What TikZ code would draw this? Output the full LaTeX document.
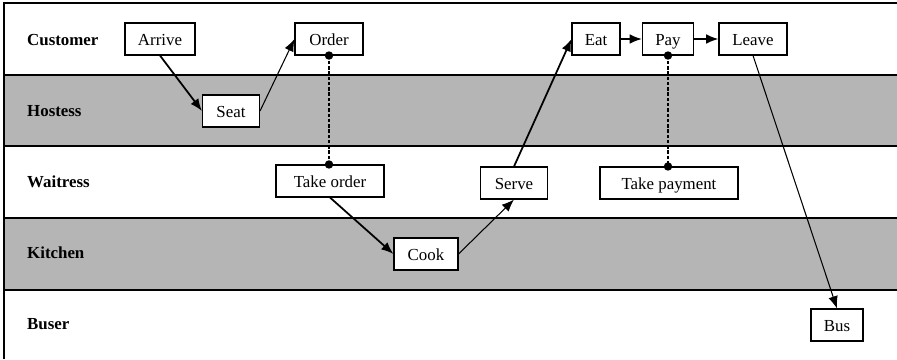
\documentclass[tikz,border=0pt]{standalone}
\usepackage{fontspec}
\setmainfont{Liberation Serif}
\usetikzlibrary{arrows.meta}

\begin{document}
\begin{tikzpicture}[x=.02cm,y=-.02cm,>={Latex[length=7pt,width=5.5pt]},
    every node/.style={font=\fontsize{9.6}{11}\selectfont},
    box/.style={draw,fill=white,line width=.6pt,minimum height=.64cm,inner sep=2pt,
      text height=1.85ex,text depth=.35ex},
    lane/.style={anchor=west,font=\fontsize{9.6}{11}\selectfont\bfseries},
    handoff/.style={line width=.6pt,dash pattern=on 2pt off 1pt}]
  \useasboundingbox (0,0) rectangle (897,359);
  % swim lanes
  \fill[black!29] (4,75) rectangle (897,146);
  \fill[black!29] (4,218) rectangle (897,290);
  \draw[line width=.8pt] (4,359)--(4,3)--(897,3);
  \foreach \y in {75,146,218,290} \draw[line width=.7pt] (4,\y)--(897,\y);
  \node[lane] (l1) at (21,40) {Customer};
  \node[lane] (l2) at (21,111) {Hostess};
  \node[lane] (l3) at (21,182) {Waitress};
  \node[lane] (l4) at (21,253) {Kitchen};
  \node[lane] (l5) at (21,324) {Buser};
  % steps
  \node[box,minimum width=1.4cm] (arr) at (160,39) {Arrive};
  \node[box,minimum width=1.36cm] (ord) at (329,39) {Order};
  \node[box,minimum width=1.14cm] (seat) at (231,111) {Seat};
  \node[box,minimum width=.96cm] (eat) at (596,39) {Eat};
  \node[box,minimum width=1.02cm] (pay) at (668,39) {Pay};
  \node[box,minimum width=1.36cm] (lv) at (753,39) {Leave};
  \node[box,minimum width=2.16cm] (tko) at (330,181) {Take order};
  \node[box,minimum width=1.34cm] (srv) at (514,183) {Serve};
  \node[box,minimum width=2.76cm] (tkp) at (669,183) {Take payment};
  \node[box,minimum width=1.28cm] (cook) at (426,254) {Cook};
  \node[box,minimum width=1.04cm] (bus) at (837,325) {Bus};
  % flow
  \draw[->,line width=1pt] (arr.south)--(seat.west);
  \draw[->,line width=.6pt] (seat.east)--(ord.west);
  \draw[->,line width=1pt] (tko.south)--(cook.west);
  \draw[->,line width=.6pt] (cook.east)--(srv.south);
  \draw[->,line width=1pt] (srv.north)--(eat.west);
  \draw[->,line width=1pt] (eat)--(pay);
  \draw[->,line width=1pt] (pay)--(lv);
  \draw[->,line width=.6pt] (lv.south)--(bus.north);
  % hand-offs
  \draw[handoff] (ord.south)--(ord.south |- tko.north);
  \draw[handoff] (pay.south)--(pay.south |- tkp.north);
  \fill (ord.south) circle (2.4pt) (ord.south |- tko.north) circle (2.4pt);
  \fill (pay.south) circle (2.4pt) (pay.south |- tkp.north) circle (2.4pt);
\end{tikzpicture}
\end{document}
